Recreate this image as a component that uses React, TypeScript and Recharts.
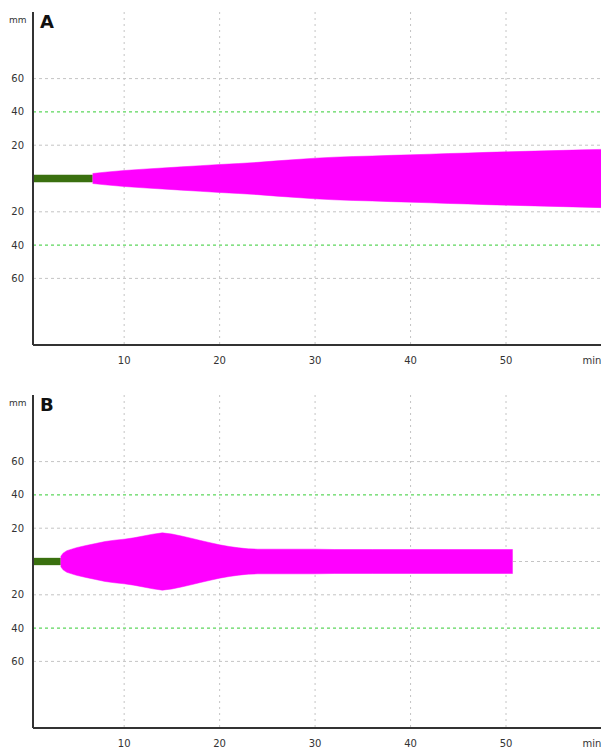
import { ComposedChart, Area, XAxis, YAxis, CartesianGrid, ReferenceLine } from "recharts"

// minutes / half amplitude in mm
const minutesA = [6.7, 8, 10, 12, 14, 16, 18, 20, 22, 24, 26, 28, 30, 32, 34, 36, 38, 40, 42, 44, 46, 48, 50, 52, 54, 56, 58, 60]
const amplitudeA = [3.0, 3.8, 4.8, 5.6, 6.3, 7.0, 7.7, 8.4, 9.0, 9.7, 10.6, 11.4, 12.2, 12.8, 13.2, 13.5, 13.9, 14.2, 14.6, 15.0, 15.3, 15.7, 16.0, 16.3, 16.6, 16.9, 17.2, 17.5]
const baselineA = [0.45, 6.7]

const minutesB = [3.35, 3.6, 4, 5, 6, 7, 8, 9, 10, 11, 12, 13, 14, 15, 16, 17, 18, 19, 20, 21, 22, 23, 24, 26, 28, 30, 32, 36, 40, 44, 48, 50.7]
const amplitudeB = [3.0, 5.0, 6.5, 8.3, 9.6, 10.8, 12.0, 12.8, 13.4, 14.2, 15.3, 16.4, 17.2, 16.5, 15.3, 14.0, 12.6, 11.3, 10.0, 9.0, 8.2, 7.6, 7.4, 7.4, 7.4, 7.4, 7.2, 7.2, 7.2, 7.2, 7.2, 7.2]
const baselineB = [0.45, 3.35]

const baselineHalfWidth = 2.2
const xTicks = [10, 20, 30, 40, 50, 59]
const yTicks = [-60, -40, -20, 20, 40, 60]
const grayLevels = [-60, -20, 0, 20, 60]
const greenLevels = [-40, 40]
const gridMinutes = [10, 20, 30, 40, 50]

const font = "'DejaVu Sans', Verdana, sans-serif"

function Trace({ minutes, amplitude, baseline, label, top }: {
  minutes: number[]; amplitude: number[]; baseline: number[]; label: string; top: number
}) {
  const trace = minutes.map((t, i) => ({ t, range: [-amplitude[i], amplitude[i]] }))
  const base = baseline.map(t => ({ t, range: [-baselineHalfWidth, baselineHalfWidth] }))
  return (
    <div style={{ position: "absolute", left: 0, top, width: 601, height: 380 }}>
      <ComposedChart width={601} height={380} margin={{ top: 12, right: 0, bottom: 5, left: 0 }}>
        <CartesianGrid horizontal={false} verticalValues={gridMinutes} stroke="#c4c4c4" strokeDasharray="2 4" />
        <CartesianGrid vertical={false} horizontalValues={grayLevels} stroke="#c4c4c4" strokeDasharray="3 3" />
        <XAxis
          type="number"
          dataKey="t"
          domain={[0.45, 59.95]}
          allowDataOverflow
          ticks={xTicks}
          tickFormatter={(v: number) => (v === 59 ? "min" : String(v))}
          height={30}
          tickLine={false}
          tickSize={0}
          tickMargin={12}
          axisLine={{ stroke: "#333", strokeWidth: 2 }}
          tick={{ fontSize: 10, fill: "#333", fontFamily: font }}
        />
        <YAxis
          type="number"
          domain={[-100, 100]}
          allowDataOverflow
          ticks={yTicks}
          tickFormatter={(v: number) => String(Math.abs(v))}
          width={33}
          tickLine={false}
          tickSize={0}
          tickMargin={9}
          axisLine={{ stroke: "#333", strokeWidth: 2 }}
          tick={{ fontSize: 10, fill: "#333", fontFamily: font }}
        />
        {greenLevels.map(y => (
          <ReferenceLine key={y} y={y} stroke="#33cc33" strokeDasharray="3 3" />
        ))}
        <Area data={base} dataKey="range" type="linear" stroke="none" fill="#3a700f" fillOpacity={1} isAnimationActive={false} />
        <Area data={trace} dataKey="range" type="linear" stroke="#ff00ff" strokeWidth={0.5} fill="#ff00ff" fillOpacity={1} isAnimationActive={false} />
      </ComposedChart>
      <div style={{ position: "absolute", left: 9, top: 15, fontSize: 9, fontFamily: font, color: "#333" }}>mm</div>
      <div style={{ position: "absolute", left: 40, top: 11, fontSize: 18, fontWeight: "bold", fontFamily: font, color: "#111" }}>{label}</div>
    </div>
  )
}

export default function App() {
  return (
    <div style={{ position: "absolute", left: 0, top: 0, width: 601, height: 751, background: "#fff", overflow: "hidden" }}>
      <Trace minutes={minutesA} amplitude={amplitudeA} baseline={baselineA} label="A" top={0} />
      <Trace minutes={minutesB} amplitude={amplitudeB} baseline={baselineB} label="B" top={383} />
    </div>
  )
}
